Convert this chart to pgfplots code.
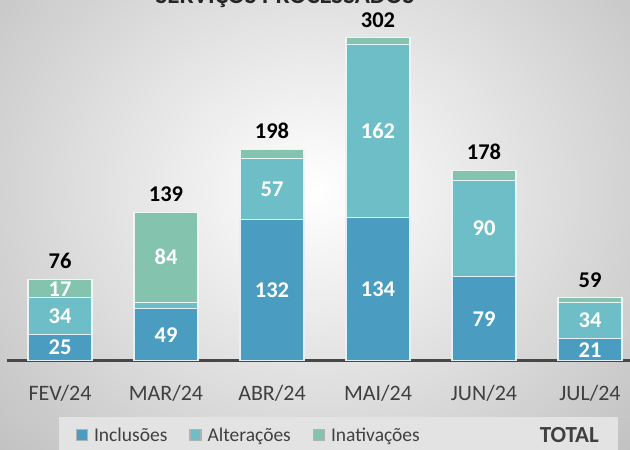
\documentclass[border=0pt]{standalone}
\usepackage{pgfplots}
\pgfplotsset{compat=1.18}
\usepackage{fontspec}
\setmainfont{Carlito}
\definecolor{cInc}{HTML}{4A9CC0}
\definecolor{cAlt}{HTML}{6DBEC6}
\definecolor{cIna}{HTML}{84C4AF}
\begin{document}
\begin{tikzpicture}[x=1pt,y=1pt]
\useasboundingbox (0,0) rectangle (630,450);
\clip (0,0) rectangle (630,450);
\shade[inner color=white, outer color=black!24] (-120,-120) rectangle (750,640);
\node[font=\fontsize{25}{30}\selectfont\bfseries, text=black!85, anchor=base] at (285,446) {SERVIÇOS PROCESSADOS};
\pgfplotsset{geom/.style={
  at={(7pt,89pt)}, anchor=south west, scale only axis,
  width=636pt, height=374.5pt,
  xmin=-0.5, xmax=5.5, ymin=0, ymax=350}}
\begin{axis}[geom,
  ybar stacked, bar width=64pt,
  xtick={0,1,2,3,4,5},
  xticklabels={FEV/24,MAR/24,ABR/24,MAI/24,JUN/24,JUL/24},
  ytick={0,50,100,150,200,250,300,350}, yticklabels={},
  ymajorgrids, grid style={draw=black!14, line width=1.5pt},
  axis x line*=bottom, axis y line=none,
  x axis line style={black!72, line width=3pt},
  major tick length=0pt,
  xticklabel style={font=\fontsize{22}{26}\selectfont, text=black!75, yshift=-21pt},
  legend style={at={(0.521,-0.149)}, anchor=north, legend columns=4,
    fill=black!11, draw=none, font=\fontsize{19.5}{23}\selectfont, text=black!75,
    inner xsep=17pt, inner ysep=8pt,
    /tikz/every odd column/.append style={column sep=4pt},
    /tikz/every even column/.append style={column sep=20pt}},
  legend image code/.code={\fill[#1,draw=white!70!black] (0pt,-5.5pt) rectangle (11pt,5.5pt);},
]
\addplot[fill=cInc, draw=white!85!cInc, line width=1.2pt] coordinates {(0,25) (1,49) (2,132) (3,134) (4,79) (5,21)};
\addlegendentry{Inclusões}
\addplot[fill=cAlt, draw=white!85!cAlt, line width=1.2pt] coordinates {(0,34) (1,6) (2,57) (3,162) (4,90) (5,34)};
\addlegendentry{Alterações}
\addplot[fill=cIna, draw=white!85!cIna, line width=1.2pt] coordinates {(0,17) (1,84) (2,9) (3,6) (4,9) (5,4)};
\addlegendentry{Inativações}
\addlegendimage{empty legend}
\addlegendentry{\hspace*{92pt}{\fontsize{23}{26}\selectfont\bfseries TOTAL}}
\end{axis}
\begin{axis}[geom, hide axis]
\addplot[draw=none, mark=none, nodes near coords, point meta=explicit symbolic,
  nodes near coords align=center,
  every node near coord/.append style={font=\fontsize{22.5}{26}\selectfont\bfseries, text=white, anchor=center}]
  coordinates {(0,12.5)[25] (0,42)[34] (0,67.5)[17]
               (1,24.5)[49] (1,97)[84]
               (2,66)[132] (2,160.5)[57]
               (3,67)[134] (3,215)[162]
               (4,39.5)[79] (4,124)[90]
               (5,10.5)[21] (5,38)[34]};
\addplot[draw=none, mark=none, nodes near coords, point meta=explicit symbolic,
  every node near coord/.append style={font=\fontsize{22.5}{26}\selectfont\bfseries, text=black, anchor=south, yshift=7pt}]
  coordinates {(0,76)[76] (1,139)[139] (2,198)[198] (3,302)[302] (4,178)[178] (5,59)[59]};
\end{axis}
\end{tikzpicture}
\end{document}
